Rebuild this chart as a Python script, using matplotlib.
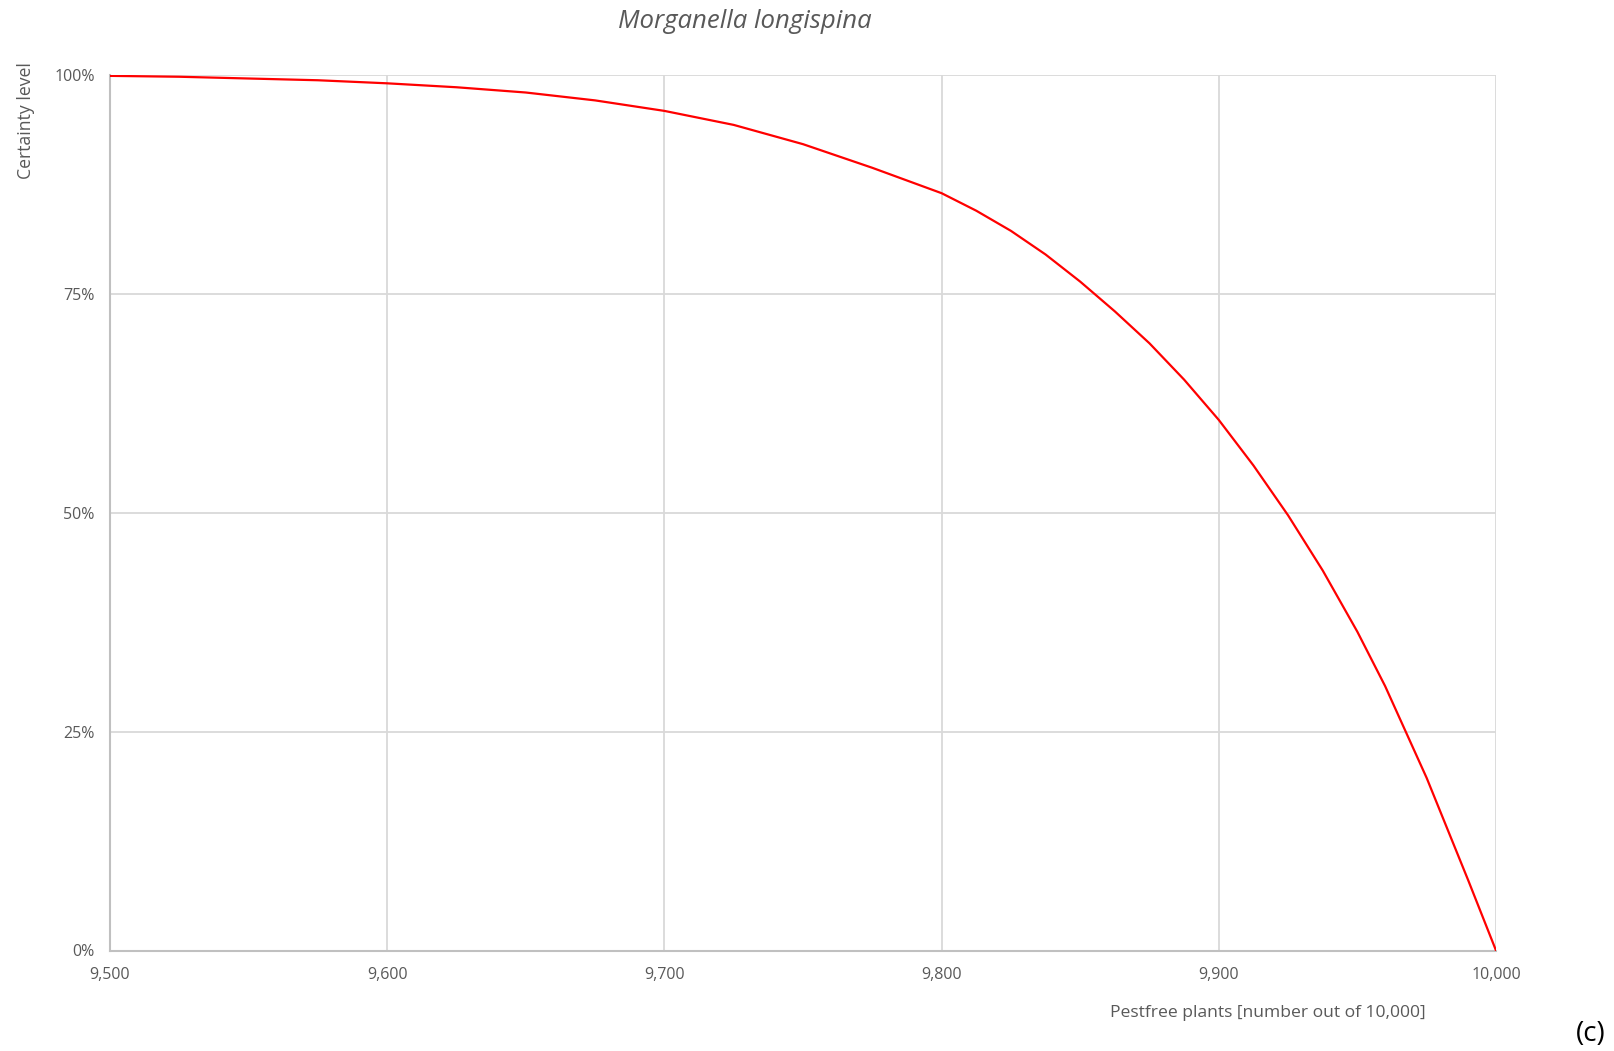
import matplotlib.pyplot as plt
from matplotlib.ticker import FuncFormatter

# values
pestfree = [9500, 9525, 9550, 9575, 9600, 9625, 9650, 9675, 9700, 9725, 9750,
            9775, 9800, 9812.5, 9825, 9837.5, 9850, 9862.5, 9875, 9887.5, 9900,
            9912.5, 9925, 9937.5, 9950, 9960, 9975, 9990, 10000]
certainty = [0.999, 0.998, 0.996, 0.994, 0.9905, 0.986, 0.980, 0.971, 0.959, 0.943, 0.921,
             0.894, 0.865, 0.845, 0.822, 0.795, 0.764, 0.730, 0.6935, 0.652, 0.606,
             0.554, 0.497, 0.434, 0.364, 0.302, 0.197, 0.080, 0.0]

x_ticks = [9500, 9600, 9700, 9800, 9900, 10000]
y_ticks = [0, 0.25, 0.5, 0.75, 1.0]

title = 'Morganella longispina'
xlabel = 'Pestfree plants [number out of 10,000]'
ylabel = 'Certainty level'

plt.rcParams['font.family'] = ['Open Sans', 'DejaVu Sans']
grey = '#595959'

fig = plt.figure(figsize=(16.15, 10.51), dpi=100)
ax = fig.add_axes([110/1615, 1 - 950.5/1051, (1496 - 110)/1615, (950.5 - 75)/1051])

ax.plot(pestfree, certainty, color='#ff0000', linewidth=1.6, zorder=3)

ax.set_xlim(9500, 10000)
ax.set_ylim(0, 1)
ax.set_xticks(x_ticks)
ax.set_yticks(y_ticks)
ax.xaxis.set_major_formatter(FuncFormatter(lambda v, p: f'{int(v):,}'))
ax.yaxis.set_major_formatter(FuncFormatter(lambda v, p: f'{int(round(v*100))}%'))
ax.tick_params(length=0, colors=grey, labelsize=11.5)
ax.tick_params(axis='x', pad=12)
ax.tick_params(axis='y', pad=11)
ax.grid(color='#d9d9d9', linewidth=1.3)
ax.set_axisbelow(True)
for s in ['top', 'right']:
    ax.spines[s].set_visible(False)
for s in ['bottom', 'left']:
    ax.spines[s].set_color('#c0c0c0')
    ax.spines[s].set_linewidth(1.5)

fig.text(745/1615, 1 - 22/1051, title, ha='center', va='center', style='italic',
         fontsize=18.5, color=grey)
fig.text(1268/1615, 1 - 1013/1051, xlabel, ha='center', va='center', fontsize=12.6, color=grey)
fig.text(26/1615, 1 - 121/1051, ylabel, ha='center', va='center', rotation=90,
         fontsize=12.7, color=grey)
fig.text(1591/1615, 1 - 1034/1051, '(c)', ha='center', va='center', fontsize=20, color='black')

fig.savefig('out.png', dpi=100)
